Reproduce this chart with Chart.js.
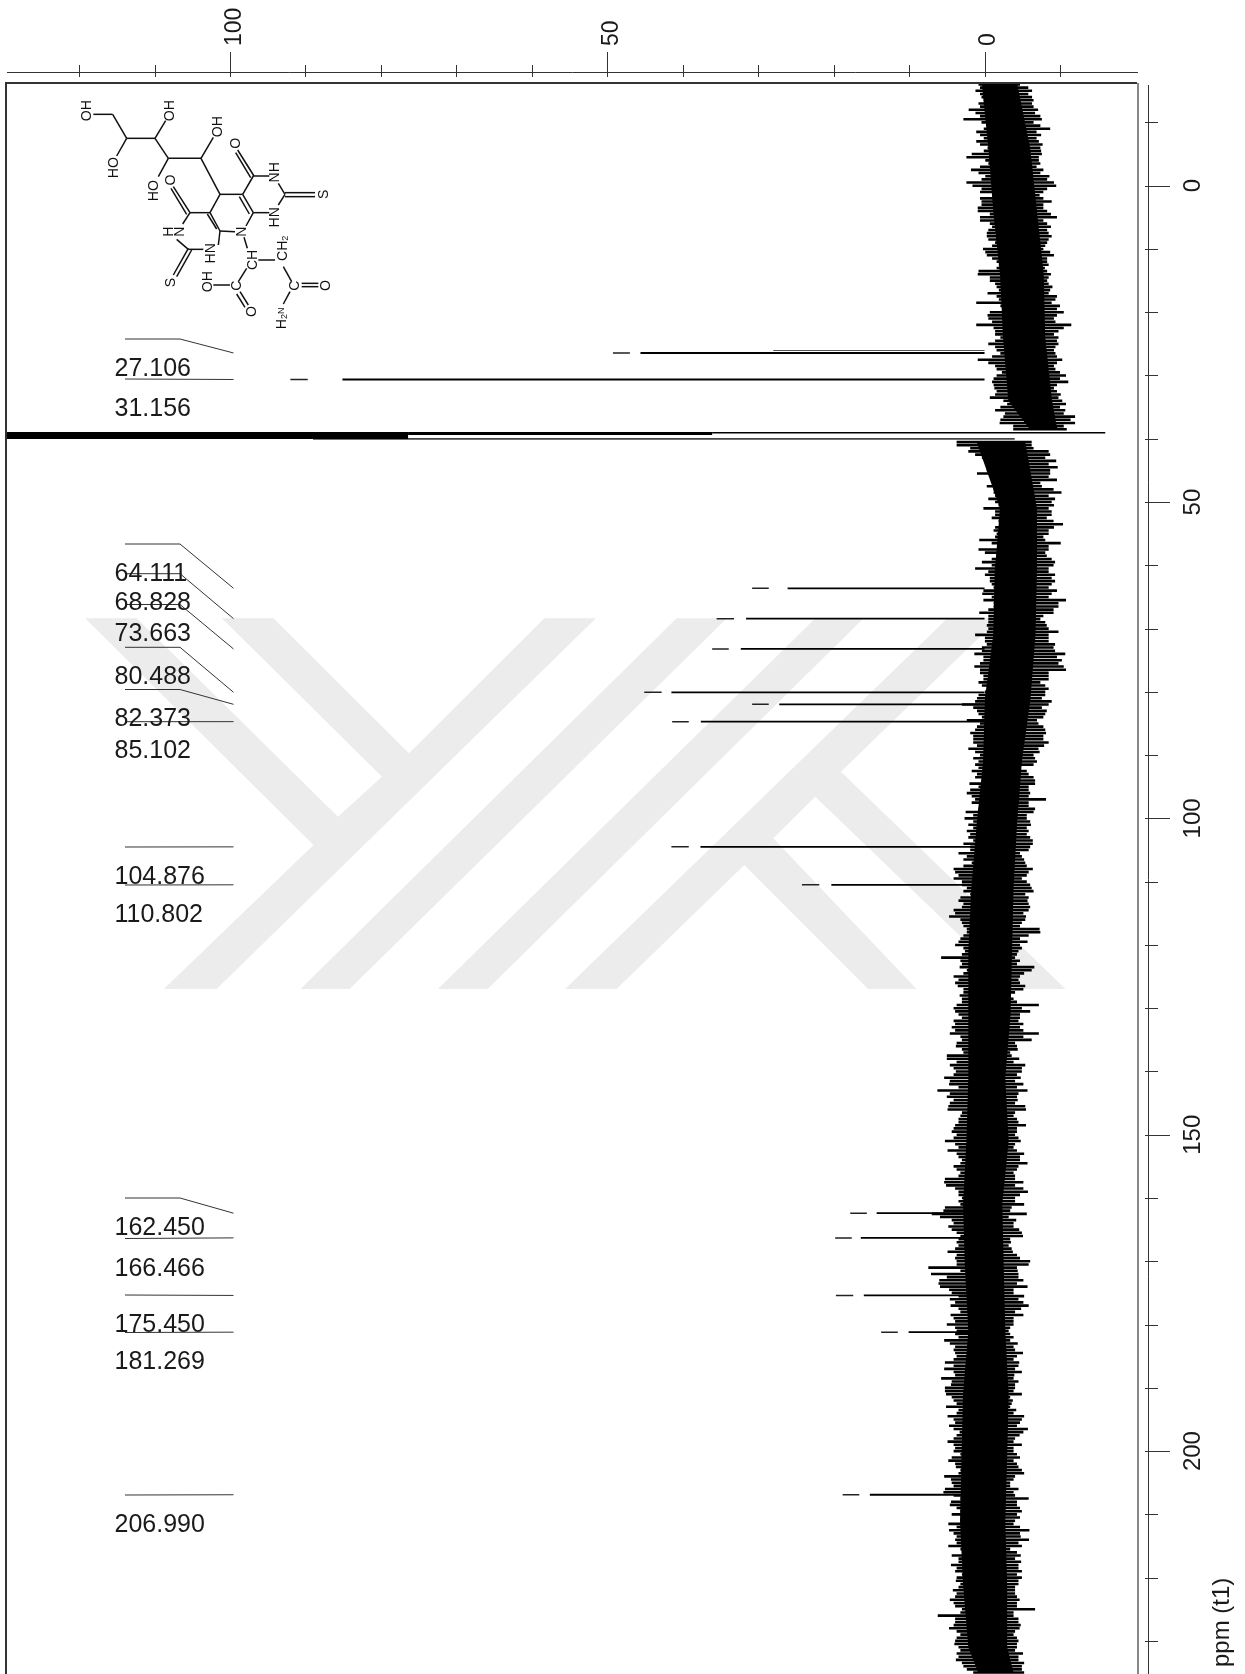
<!DOCTYPE html>
<html lang="en">
<head>
  <meta charset="UTF-8" />
  <title>13C NMR spectrum</title>
  <script src="https://cdn.jsdelivr.net/npm/chart.js"></script>
  <style>
    html, body { margin: 0; padding: 0; background: #fff; overflow: hidden; }
    #wrap { position: relative; width: 1245px; height: 1674px; overflow: hidden; }
    #wrap svg, #wrap canvas { position: absolute; }
    #mol text { font-family: "Liberation Sans", Arial, sans-serif; font-size: 42px; fill: #111; text-anchor: middle; dominant-baseline: central; }
    #mol line { stroke: #111; stroke-width: 4.5; }
  </style>
</head>
<body>
<div id="wrap">
  <svg id="mark" style="left:80px;top:600px" width="1010" height="410" viewBox="0 0 1566 1230" preserveAspectRatio="none">
    <g fill="#ececec">
      <polygon points="8,55 88,55 400,650 468,530 220,55 300,55 510,460 720,55 800,55 212,1167 130,1167 362,735" />
      <polygon points="925,55 1003,55 418,1167 342,1167" />
      <polygon points="1140,55 1215,55 632,1167 555,1167" />
      <polygon points="1345,55 1425,55 1180,515 1528,1167 1450,1167 1140,590 1075,715 1297,1167 1222,1167 1030,795 832,1167 752,1167" />
    </g>
  </svg>
  <canvas id="nmr" width="1245" height="1674" style="left:0;top:0"></canvas>
  <svg id="mol" style="left:0;top:0" width="420" height="440" viewBox="0 0 1260 1320"></svg>
</div>

<script>
// axis ticks
const intensityTicks = [120, 110, 100, 90, 80, 70, 60, 50, 40, 30, 20, 10, 0, -10];
const ppmTicks = [-10, 0, 10, 20, 30, 40, 50, 60, 70, 80, 90, 100, 110, 120, 130, 140, 150, 160, 170, 180, 190, 200, 210, 220, 230];

// picked peaks
const peakPpm  = [26.05, 26.44, 30.63, 63.63, 68.43, 73.22, 80.07, 81.97, 84.71, 104.5, 110.5, 162.4, 166.3, 175.4, 181.2, 206.9];
const peakTop  = [28.0, 45.6, 85.1, 26.1, 31.6, 32.3, 41.5, 27.2, 37.6, 37.65, 20.3, 14.3, 16.4, 16.0, 10.06, 15.2];
const dashFrom = [null, 49.25, 92.0, 30.8, 35.5, 36.1, 45.1, 30.8, 41.4, 41.5, 24.2, 17.8, 19.8, 19.7, 13.7, 18.8];
const dashTo   = [null, 47.0, 89.7, 28.6, 33.2, 33.9, 42.8, 28.6, 39.2, 39.2, 21.9, 15.6, 17.6, 17.4, 11.5, 16.6];

const peakLabels = ['27.106', '31.156', '64.111', '68.828', '73.663', '80.488', '82.373', '85.102', '104.876', '110.802', '162.450', '166.466', '175.450', '181.269', '206.990'];
const labelledPeakPpm = peakPpm.slice(1);

// solvent peak, clipped at the left frame
const solventPpm  = [39.5, 39.17, 39.04, 40.03];
const solventFrom = [130, 76.4, 36.1, 89];
const solventTo   = [76.4, 36.1, -16, -4];

// noise rows, one every 0.5 ppm from -16
const noiseStartPpm = -16;
const noiseStepPpm = 0.5;
const noiseLeft = [
  .8,.6,1.2,.6,.4,.1,.8,.6,2.1,1.2,.6,2.8,.4,-.5,.1,1.1,.6,.1,1.1,.6,
  -.4,.1,1.7,2.4,-.1,-.5,.6,1.8,.8,-.1,.4,2.4,1.6,.4,.6,-1.2,.6,.4,.4,.9,
  .9,-.7,.6,.6,-.7,-1,-.5,-.3,-.3,-.5,-1.4,-1,.2,-.1,-.3,-1,-1.6,-1.9,-1.6,.8,
  .9,-.7,-.7,-1.4,-1.6,-1.9,-.4,-1.6,-1.9,1.1,-2.1,-2.5,-.7,-.4,-.5,-1,1.1,-1.2,-1.4,-1.4,
  -2.1,-1.4,-.5,-1.4,-1.6,-2.1,-1,.9,-.5,-1.4,-1.6,-2.3,-1.6,-1.2,-1,-1.2,-1.3,-1.6,-1.4,-.7,
  -2.5,-3,-2.1,-1.4,-2.7,-2.5,-2.1,-2,-3.8,-3.8,null,null,null,3.7,
  3.7,1.9,2.15,1.25,.35,-.3,-.5,-1.4,-.3,1,-1.4,-1.4,-1.85,-.3,-1.2,-1.2,-1.4,-.5,-1.4,-1.85,
  .15,-1.4,-1.4,-.95,-1.85,-2.1,-1.4,-1.2,-1.6,-1.4,.7,-.95,-1.85,.8,-.05,-1.6,-.95,.35,-.95,1.25,
  -.5,-.05,-.7,-.7,-.95,-1.2,.15,.3,-.95,.15,-1.2,-1.2,-.5,.7,-.5,-.5,-.5,-.3,-.5,-.3,
  1.25,-.05,-.05,-.3,.35,.35,1.35,.15,.15,.6,1.35,.6,.6,.15,.15,.8,.35,-.3,-.05,.8,
  1,1.25,3,1.5,1,.8,.35,2.35,.6,1,1.25,1.9,1.5,1.5,1.5,1,2.15,1.25,.6,1.5,
  .8,1.25,.8,1.7,1,1.25,.35,2,.8,1.9,2.35,1.7,1.25,1.7,.6,.8,2.5,1.5,2.65,1.5,
  2.15,1.5,2.35,1.9,2.15,1.5,2.8,1.9,1.9,3.45,2.35,2.8,1.7,2.8,4.1,3.9,3.45,4.1,3,3,
  2.35,2.8,1.9,3.2,3.45,2.8,3,4.1,3.9,4.7,3.2,3,2.8,2.35,2.35,2.8,3.2,3.45,3.9,2.8,
  2.6,3,5.75,3.2,3,3.3,2.35,2.8,4.1,3.45,3.9,3.55,2.8,2.8,3.3,3,3,3.7,4.1,3.9,
  3.45,3,4.1,3.9,4.35,3.9,4.6,3.2,3,3.7,3.8,3,2.8,5,5,3.7,4.6,4.1,3.8,4.1,
  5.35,4.6,4.7,3.45,6.25,4.6,5,4.1,4.6,4.8,4.9,3,3.2,3.45,3.45,3.9,4.1,4.35,3.7,4.1,
  5.25,3.9,3.45,4.9,3.7,3.45,3,3.2,4.1,3.7,3.2,3.45,5.25,5.35,5.1,3.9,3.45,3.45,3,3.45,
  3.2,5.25,5.45,7,5.9,4.35,4.1,4.8,4.35,3.7,3.2,3.45,3.7,3.45,3.9,4.9,3.7,3.9,3.7,3.7,
  7.45,3.2,7.1,5,6,6.1,5.9,4.7,4.35,3.45,4.6,3.9,4.5,3.45,3.2,4.5,4.1,3.9,5,3.9,
  3.7,3.9,3.45,5.35,4.6,3.9,4.1,3.9,3.7,4.1,5.25,4.1,5.35,4.1,3.9,5.75,4.35,4.45,5.25,5.25,
  5.1,4.35,4.1,3.7,5.1,3.45,3.7,4.9,4.1,3.9,4.7,4.1,3.3,3.7,4.1,4.9,4.1,3.9,4.1,3.2,
  4.35,4.8,3.9,3.8,3.2,3.45,5.35,4.45,4.35,4.1,5.25,5.45,4.1,3.2,4.45,4.6,3.7,3.2,4.35,3,
  3.2,4.8,3.7,4.7,4.1,3.7,3.9,3.7,4.8,3.2,3,4.35,3.45,3.45,4.45,3.7,3.9,3,3.7,3.8,
  3.2,3.45,4.2,3.7,3.9,4.6,4.1,3.9,3,3.2,6.2,3.9,3.9,4.1,4.7,3.7,3.2,3.7,3.9,4,
  3.45,3.2,3.7,3.45,3.8,3,2.8,2.35,1.5
];
const noiseRight = [
  -4.7,-5.8,-6.3,-5.8,-6.3,-6.5,-6.3,-6.5,-7.1,-6.7,-7.4,-7.6,-6.5,-7.4,-8.7,-6.9,-7.5,-6.9,-7.2,-7.7,
  -7.4,-7.5,-7.6,-7.2,-7.2,-7.4,-6.9,-7.8,-7.4,-8.6,-8.3,-9.2,-9.5,-8.3,-7.8,-7.3,-7.8,-8.9,-7.8,-7.8,
  -8.3,-8.8,-9.6,-7.8,-8.3,-8.8,-8.3,-8.5,-8.9,-8.5,-8.3,-8.05,-7.8,-8.7,-9.2,-8.3,-8.3,-8.5,-8,-8.3,
  -8.8,-8.5,-8.3,-8.5,-9,-8.7,-8.5,-9.6,-9.4,-8.9,-10,-9.6,-10.5,-9.6,-9.2,-9.4,-11.5,-10.5,-9.8,-9.2,
  -9.8,-9.6,-9.8,-9.4,-9.2,-9.4,-9.6,-10.3,-9.6,-9.2,-9.4,-10,-10.8,-10,-11.1,-9.6,-9.2,-9.6,-10.1,-9.8,
  -10.3,-10.8,-10,-10.7,-10.5,-12,-11.4,-12,-10.5,-10.9,null,null,null,-6.25,
  -6.25,-6.5,-8.5,-8.7,-8.05,-9.5,-8.5,-9.7,-8.7,-8.7,-8.5,-9.6,-7.4,-7.6,-9.15,-10.2,-8.5,-9.35,-8.9,-9.2,
  -8.5,-8.9,-8.9,-8.25,-9.15,-10.4,-9.2,-8.5,-8.5,-7.8,-8.05,-10.1,-8.5,-8.5,-8.05,-8.25,-8.9,-9.35,-9.15,-8.5,
  -8.5,-9.35,-8.9,-9.35,-8.9,-8.5,-9.6,-8.9,-8.5,-10.8,-9.8,-9.8,-9.15,-9.15,-7.8,-7.4,-8.05,-8.25,-8.5,-9.8,
  -8.5,-8.5,-8.5,-9.35,-9.15,-9.35,-10.7,-9.6,-10.25,-9.8,-10.5,-10.8,-8.5,-8.5,-8.5,-7.4,-8.05,-8.5,-8.05,-8.05,
  -7.6,-8.9,-8.5,-7.6,-8.25,-8.05,-7.8,-6.95,-7.15,-7.8,-8.05,-8.15,-7.8,-7.8,-8.5,-7.9,-7.15,-7.3,-6.5,-6.7,
  -6.95,-6.5,-4.7,-5.6,-5.85,-6.5,-6.7,-6.7,-5.85,-5.85,-6.05,-5.85,-8.15,-5.85,-5.85,-6.7,-6.5,-5.6,-5.6,-6.05,
  -6.15,-5.6,-5.85,-5.6,-6.05,-6.4,-6.4,-6.05,-5.85,-4.7,-4.95,-5.25,-5.4,-5.6,-6.4,-5.85,-5.6,-4.95,-5.6,-6.05,
  -6.25,-6.5,-5.4,-5.85,-5.7,-5.85,-6.05,-5.85,-5.15,-5.5,-5.4,-4.95,-4.7,-7.3,-7.4,-5.85,-4.7,-5.7,-4.7,-4.95,
  -4.5,-4.3,-4.05,-4.7,-4.3,-6.6,-6.25,-5.25,-4.7,-4.5,-4.7,-5.4,-5.15,-4.05,-3.4,-3.85,-4.3,-7.2,-4.95,-6.05,
  -4.7,-4.7,-4.5,-5.15,-4.7,-5.15,-7.2,-5.15,-6.25,-4.05,-4.3,-4.4,-3.4,-3.6,-4.6,-3.85,-5.4,-4.95,-4.95,-4.3,
  -4.8,-4.05,-5.15,-4.3,-5.7,-4.5,-4.3,-4.4,-4.05,-5.4,-5.5,-4.05,-3.85,-4.3,-4.5,-5.5,-4.3,-4.3,-4.05,-4.5,
  -4.8,-4.05,-3.85,-4.3,-5.25,-4.7,-4.7,-5.7,-4.5,-4.3,-3.85,-4.05,-4.05,-5.15,-4.05,-5.15,-5.75,-4.7,-4.05,-4.05,
  -5.25,-3.6,-3.4,-5.6,-3.2,-4.2,-3.85,-3.85,-4.6,-4.95,-5.1,-3.4,-3.5,-3.2,-3.6,-3.75,-4.3,-4.7,-6.05,-5.85,
  -4.3,-4.4,-4.5,-4.5,-5.15,-4.3,-5.7,-3.85,-3.85,-5.25,-4.5,-5.15,-5.85,-4.85,-4.05,-5.15,-3.85,-3.85,-3.85,-3.4,
  -3.2,-3.4,-3.85,-3.4,-4.4,-3.85,-4.05,-5.1,-4.3,-3.85,-4.6,-4.5,-4.05,-4.95,-3.95,-3.85,-4.5,-4.05,-4.05,-3.85,
  -4.95,-3.4,-3.75,-3.6,-3.4,-4.2,-3.85,-5.25,-4.95,-4.7,-4.3,-5.75,-5.15,-4.65,-4.05,-3.85,-4.95,-3.85,-3.85,-4.3,
  -4.7,-3.85,-4.3,-4.5,-4.95,-5.25,-4.05,-3.85,-3.4,-3.4,-4.5,-3.85,-4.05,-5.85,-4.3,-4.3,-4.7,-4.95,-4.3,-4.7,
  -4.05,-3.85,-4.7,-5.95,-4.7,-4.8,-5.9,-4.5,-4.95,-3.4,-4.3,-4.8,-4.05,-4.85,-4.5,-4.5,-4.95,-4.3,-4.95,-4.5,
  -4.5,-4.05,-4.05,-4.05,-4.3,-4.65,-4.3,-4.3,-6.7,-3.85,-3.85,-4.5,-4.5,-4.8,-4.65,-4.05,-3.85,-4.3,-4.5,-4.3,
  -4.3,-4.05,-5.1,-4.5,-4.5,-5.25,-4.95,-4.95,-5.25
];

// solid middle of the noise band
const coreUpperPpm   = [-16, -6, 4, 14, 24, 34, 38.5];
const coreUpperLeft  = [.35, -.5, -1.15, -2.05, -2.45, -3.15, -6];
const coreUpperRight = [-4.35, -6.05, -6.95, -7.85, -8.05, -8.95, -9.65];
const coreLowerPpm   = [40.5, 51, 61, 71, 81, 91, 101, 111, 121, 131, 141, 151, 161, 171, 181, 191, 201, 211, 221, 231, 235];
const coreLowerLeft  = [1.05, -2.05, -1.35, -1.15, -.05, .2, 1.05, 1.75, 2.15, 2.15, 2.15, 2.4, 2.85, 2.6, 2.15, 2.85, 3.05, 3.25, 2.85, 2.15, .85];
const coreLowerRight = [-5.4, -6.95, -6.95, -6.75, -6.1, -4.95, -4.3, -3.85, -3.65, -3.45, -2.75, -3.2, -2.35, -2.55, -2.75, -3.2, -3, -2.75, -3, -3, -3.85];

function lineSet(points, width, color) {
  return { data: points, borderColor: color || '#000', borderWidth: width, pointRadius: 0, fill: false, tension: 0, borderCapStyle: 'butt', borderJoinStyle: 'miter', spanGaps: false };
}
function coreSet(ppm, values, fill) {
  const ds = lineSet(ppm.map((p, i) => ({ x: values[i], y: p })), 0, 'rgba(0,0,0,0)');
  ds.fill = fill;
  ds.backgroundColor = '#000';
  return ds;
}

const noiseRows = [];
noiseLeft.forEach((left, i) => {
  if (left === null) return;
  const p = noiseStartPpm + i * noiseStepPpm;
  noiseRows.push({ x: left, y: p }, { x: noiseRight[i], y: p }, { x: null, y: p });
});

const peakLines = [];
const thinPeak = [];
const peakDashes = [];
peakPpm.forEach((p, i) => {
  if (dashFrom[i] === null) {
    thinPeak.push({ x: peakTop[i], y: p }, { x: 0, y: p });
    return;
  }
  peakLines.push({ x: peakTop[i], y: p }, { x: 0, y: p }, { x: null, y: p });
  peakDashes.push({ x: dashFrom[i], y: p }, { x: dashTo[i], y: p }, { x: null, y: p });
});

const solventWidths = [7, 3, 1.5, 1.8];
const solventColors = ['#000', '#000', '#000', '#444'];
const solventSets = solventPpm.map((p, i) =>
  lineSet([{ x: solventFrom[i], y: p }, { x: solventTo[i], y: p }], solventWidths[i], solventColors[i]));

// leader lines and label text, in page pixels
const leaderY = [339, 379, 544, 573.7, 604.5, 647.3, 689.5, 721.7, 847, 885, 1198, 1238.5, 1295, 1332.5, 1495];
const labelY = [369.5, 409.5, 574, 603.5, 634, 677.5, 719.5, 751.5, 877, 915.5, 1228.3, 1269, 1325.5, 1362.5, 1525];

const spectrumDecor = {
  id: 'spectrumDecor',
  afterDraw(chart) {
    const ctx = chart.ctx;
    const xs = chart.scales.x;
    const ys = chart.scales.y;
    ctx.save();

    // frame
    ctx.lineWidth = 2;
    ctx.strokeStyle = '#333';
    ctx.beginPath();
    ctx.moveTo(6, 1674); ctx.lineTo(6, 83); ctx.lineTo(1137, 83);
    ctx.stroke();
    ctx.strokeStyle = '#888';
    ctx.beginPath();
    ctx.moveTo(1138, 83); ctx.lineTo(1138, 1674);
    ctx.stroke();

    // top axis
    ctx.lineWidth = 1;
    ctx.strokeStyle = '#333';
    ctx.beginPath();
    ctx.moveTo(7, 72.5); ctx.lineTo(1138, 72.5);
    intensityTicks.forEach(v => {
      const px = Math.round(xs.getPixelForValue(v)) + 0.5;
      ctx.moveTo(px, v % 50 === 0 ? 52 : 65);
      ctx.lineTo(px, 77);
    });
    ctx.stroke();

    // right axis
    ctx.beginPath();
    ctx.moveTo(1148.5, 85); ctx.lineTo(1148.5, 1674);
    ppmTicks.forEach(v => {
      const py = Math.round(ys.getPixelForValue(v)) + 0.5;
      ctx.moveTo(1145, py);
      ctx.lineTo(v % 50 === 0 ? 1170 : 1158, py);
    });
    ctx.stroke();

    // leaders from the peak list to the picked peaks
    ctx.strokeStyle = '#333';
    ctx.beginPath();
    labelledPeakPpm.forEach((p, i) => {
      const target = ys.getPixelForValue(p);
      ctx.moveTo(125, leaderY[i]);
      if (Math.abs(target - leaderY[i]) > 2) ctx.lineTo(180, leaderY[i]);
      ctx.lineTo(233.5, target);
    });
    ctx.stroke();

    // peak list
    ctx.fillStyle = '#1a1a1a';
    ctx.font = '25px "Liberation Sans", Arial, sans-serif';
    ctx.textBaseline = 'middle';
    ctx.textAlign = 'left';
    peakLabels.forEach((t, i) => ctx.fillText(t, 114.5, labelY[i]));

    // axis unit
    ctx.translate(1222, 1667);
    ctx.rotate(-Math.PI / 2);
    ctx.font = '24px "Liberation Sans", Arial, sans-serif';
    ctx.fillText('ppm (t1)', 0, 0);
    ctx.restore();
  }
};

function noScalePadding(scale) {
  scale.paddingTop = scale.paddingBottom = scale.paddingLeft = scale.paddingRight = 0;
}

new Chart(document.getElementById('nmr'), {
  type: 'line',
  data: {
    datasets: [
      lineSet(peakLines, 1.8),
      lineSet(peakDashes, 1.5, '#222'),
      lineSet(thinPeak, 1, '#555'),
      ...solventSets,
      lineSet(noiseRows, 2.6),
      coreSet(coreUpperPpm, coreUpperLeft, '+1'),
      coreSet(coreUpperPpm, coreUpperRight, false),
      coreSet(coreLowerPpm, coreLowerLeft, '+1'),
      coreSet(coreLowerPpm, coreLowerRight, false)
    ]
  },
  plugins: [spectrumDecor],
  options: {
    responsive: false,
    animation: false,
    indexAxis: 'y',
    layout: { autoPadding: false, padding: { left: 6, right: 0, top: 0, bottom: 0 } },
    plugins: { legend: { display: false }, tooltip: { enabled: false }, title: { display: false } },
    elements: { line: { capBezierPoints: false } },
    scales: {
      x: {
        type: 'linear',
        position: 'top',
        reverse: true,
        min: -20.34,
        max: 129.69,
        afterFit(scale) { scale.height = 83; noScalePadding(scale); },
        afterBuildTicks(scale) { scale.ticks = intensityTicks.map(v => ({ value: v })); },
        border: { display: false },
        grid: { display: false, drawTicks: false },
        ticks: {
          autoSkip: false,
          minRotation: 90,
          maxRotation: 90,
          padding: 37,
          labelOffset: 32,
          color: '#1a1a1a',
          font: { family: '"Liberation Sans", Arial, sans-serif', size: 23 },
          callback: v => (v % 50 === 0 ? String(v) : '')
        }
      },
      y: {
        type: 'linear',
        position: 'right',
        reverse: true,
        min: -16.23,
        max: 235.23,
        afterFit(scale) { scale.width = 107; noScalePadding(scale); },
        afterBuildTicks(scale) { scale.ticks = ppmTicks.map(v => ({ value: v })); },
        border: { display: false },
        grid: { display: false, drawTicks: false },
        ticks: {
          autoSkip: false,
          minRotation: 90,
          maxRotation: 90,
          crossAlign: 'center',
          padding: 35,
          color: '#1a1a1a',
          font: { family: '"Liberation Sans", Arial, sans-serif', size: 24 },
          callback: v => (v % 50 === 0 ? String(v) : '')
        }
      }
    }
  }
});

// the structure drawing in the corner, coordinates in 3x page units
const bonds = [
  [280,343,338,343],[338,343,380,415],[380,415,465,415],[465,415,505,475],[505,475,603,475],[603,475,660,583],
  [380,415,350,468],[465,415,497,362],[505,475,475,530],[603,475,640,412],
  [660,583,728,583],[728,583,760,638],[718,590,748,642],[760,638,738,678],[705,695,660,693],[660,693,630,638],[650,687,622,642],[630,638,660,583],
  [728,583,760,528],[762,528,713,450],[752,533,707,458],[760,528,808,528],[835,550,855,583],[855,578,945,578],[855,590,945,590],[855,583,835,615],[808,638,760,638],
  [630,638,570,638],[570,638,520,560],[560,643,513,565],[570,638,548,672],[530,718,565,748],[565,745,520,825],[575,750,530,830],[565,748,610,748],[655,735,660,693],
  [732,712,742,745],[775,780,825,780],[740,805,715,845],[640,855,690,855],[720,875,745,915],[710,882,735,922],
  [850,800,875,845],[905,850,955,850],[905,860,955,860],[870,875,850,912]
];
const atoms = [
  ['OH',258,332],['HO',340,503],['OH',507,332],['HO',460,572],['OH',652,380],['O',705,430],['O',510,540],
  ['NH',822,517],['S',970,583],['HN',822,652],['N',722,695],['N',538,695],['H',505,695],['HN',630,760],['S',510,848],
  ['CH',755,780],['C',707,857],['OH',620,845],['O',752,935],['C',883,857],['O',975,857]
];
const mol = document.getElementById('mol');
const ns = 'http://www.w3.org/2000/svg';
bonds.forEach(b => {
  const el = document.createElementNS(ns, 'line');
  ['x1', 'y1', 'x2', 'y2'].forEach((k, i) => el.setAttribute(k, b[i]));
  mol.appendChild(el);
});
function atomText(parts, x, y) {
  const el = document.createElementNS(ns, 'text');
  el.setAttribute('transform', 'translate(' + x + ' ' + y + ') rotate(-90)');
  parts.forEach(part => {
    const span = document.createElementNS(ns, 'tspan');
    span.textContent = part[0];
    if (part[1]) { span.setAttribute('font-size', '27'); span.setAttribute('dy', part[1]); }
    el.appendChild(span);
  });
  mol.appendChild(el);
}
atoms.forEach(a => atomText([[a[0]]], a[1], a[2]));
atomText([['CH'], ['2', 9]], 845, 745);
atomText([['H'], ['2', 9], ['N', -9]], 842, 955);
</script>
</body>
</html>
